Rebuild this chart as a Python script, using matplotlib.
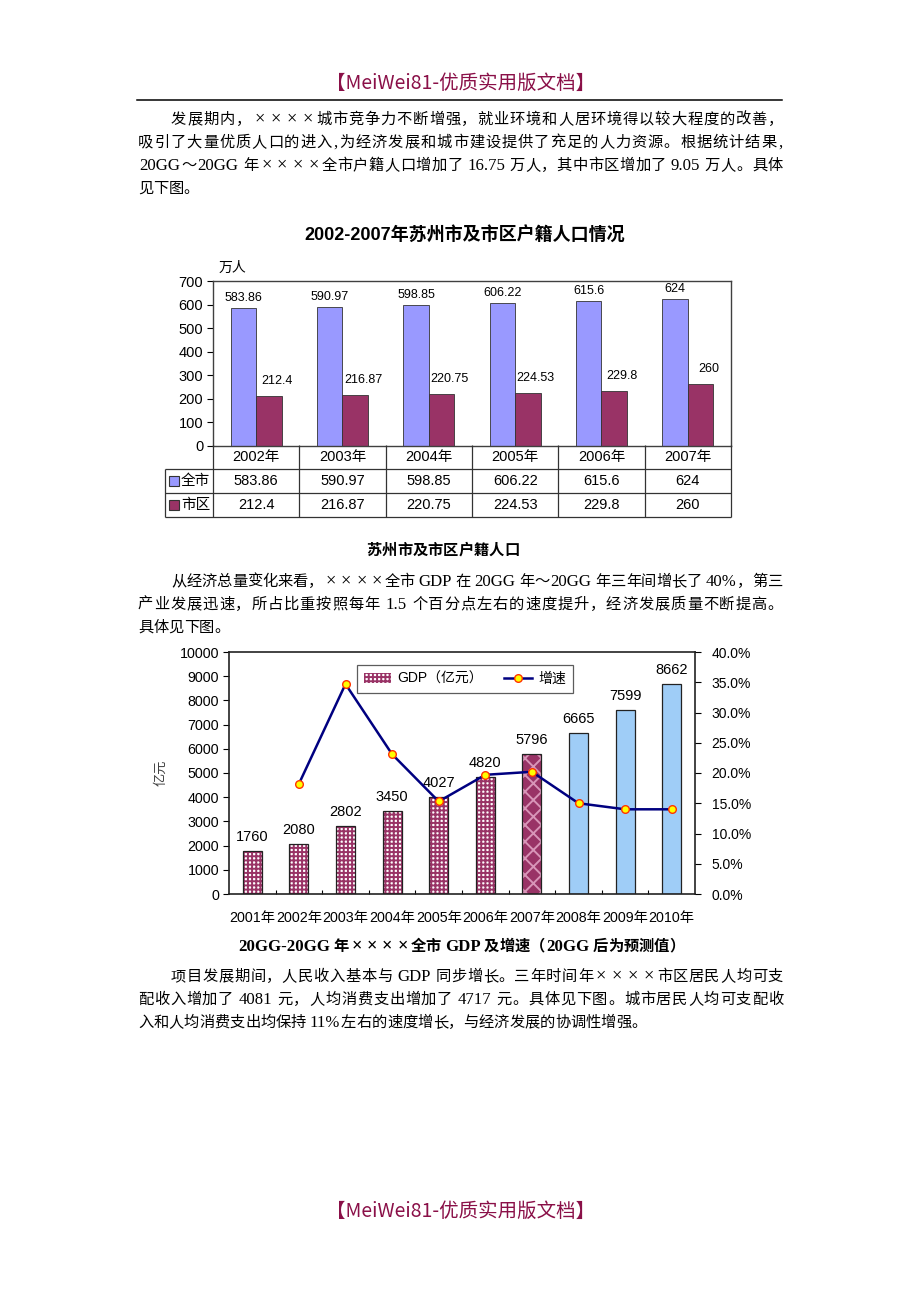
import re

import matplotlib
matplotlib.use("Agg")
import matplotlib.pyplot as plt
import numpy as np
from matplotlib.font_manager import FontProperties
from matplotlib.lines import Line2D
from matplotlib.patches import Patch

W, H = 920, 1302
SANS = ["Liberation Sans", "Noto Sans CJK SC"]
BODY = ["Liberation Serif", "Noto Sans CJK SC"]
HEAD = ["Noto Sans CJK SC"]
MAROON = "#993366"
VIOLET = "#9999FF"
BRAND = "#8A1048"

plt.rcParams["font.family"] = SANS
plt.rcParams["hatch.linewidth"] = 1.4

# ---- data -------------------------------------------------------------
pop_years = ["2002年", "2003年", "2004年", "2005年", "2006年", "2007年"]
pop_series = ["全市", "市区"]
pop_city = [583.86, 590.97, 598.85, 606.22, 615.6, 624]
pop_urban = [212.4, 216.87, 220.75, 224.53, 229.8, 260]

gdp_years = ["2001年", "2002年", "2003年", "2004年", "2005年",
             "2006年", "2007年", "2008年", "2009年", "2010年"]
gdp = [1760, 2080, 2802, 3450, 4027, 4820, 5796, 6665, 7599, 8662]
growth = [np.nan, 18.2, 34.7, 23.1, 15.3, 19.7, 20.2, 15.0, 14.0, 14.0]  # %
gdp_kind = ["actual"] * 6 + ["base"] + ["forecast"] * 3

brand = "【MeiWei81-优质实用版文档】"
para1 = ["发展期内，××××城市竞争力不断增强，就业环境和人居环境得以较大程度的改善，",
         "吸引了大量优质人口的进入,为经济发展和城市建设提供了充足的人力资源。根据统计结果,",
         "20GG～20GG 年××××全市户籍人口增加了 16.75 万人，其中市区增加了 9.05 万人。具体",
         "见下图。"]
para2 = ["从经济总量变化来看，××××全市 GDP 在 20GG 年～20GG 年三年间增长了 40%，第三",
         "产业发展迅速，所占比重按照每年 1.5 个百分点左右的速度提升，经济发展质量不断提高。",
         "具体见下图。"]
para3 = ["项目发展期间，人民收入基本与 GDP 同步增长。三年时间年××××市区居民人均可支",
         "配收入增加了 4081 元，人均消费支出增加了 4717 元。具体见下图。城市居民人均可支配收",
         "入和人均消费支出均保持 11%左右的速度增长，与经济发展的协调性增强。"]
title1 = "2002-2007年苏州市及市区户籍人口情况"
caption1 = "苏州市及市区户籍人口"
caption2 = "20GG-20GG 年××××全市 GDP 及增速（20GG 后为预测值）"

# ---- page helpers -----------------------------------------------------
fig = plt.figure(figsize=(W / 100, H / 100), dpi=100)
renderer = fig.canvas.get_renderer()


def fx(x):
    return x / W


def fy(y):
    return 1 - y / H


def rect(l, t, r, b):
    return [l / W, 1 - b / H, (r - l) / W, (b - t) / H]


TOKEN = re.compile(r"[A-Za-z0-9.%\-]+| |.")


def is_wide(ch):
    return ord(ch) > 0x2000 or ch == "×"


def set_line(s, y, x0=None, x1=None, center=None, size=11, weight="normal"):
    """Lay a line out in em cells (CJK style); justify if x1 is given."""
    fp_cjk = FontProperties(family=HEAD, size=size, weight=weight)
    fp_lat = FontProperties(family=BODY, size=size * 1.1, weight=weight)
    fp_x = FontProperties(family=BODY, size=size * 1.2, weight=weight)
    em = size * fig.dpi / 72
    toks = TOKEN.findall(s)
    widths, props = [], []
    for t in toks:
        if t == " ":
            widths.append(em * 0.2)
            props.append(None)
        elif len(t) == 1 and is_wide(t):
            widths.append(em)
            props.append(fp_x if t == "×" else fp_cjk)
        else:
            w = renderer.get_text_width_height_descent(t, fp_lat, ismath=False)[0]
            widths.append(w + em * 0.1)
            props.append(fp_lat)
    natural = sum(widths)
    gap = 0.0
    if x1 is not None:
        gap = (x1 - x0 - natural) / (len(toks) - 1)
    if center is not None:
        x0 = center - natural / 2
    base = y + 0.38 * em
    x = x0
    for t, w, fp in zip(toks, widths, props):
        if fp is fp_x:
            fig.text(fx(x + w / 2), fy(base), t, fontproperties=fp, ha="center", va="baseline")
        elif fp is not None:
            dx = em * 0.05 if fp is fp_lat else 0
            fig.text(fx(x + dx), fy(base), t, fontproperties=fp, ha="left", va="baseline")
        x += w + gap


def paragraph(lines, y0, left=138, right=783, indent=33, step=23):
    for i, s in enumerate(lines):
        x0 = left + (indent if i == 0 else 0)
        last = i == len(lines) - 1
        set_line(s, y0 + i * step, x0=x0, x1=None if last else right)


# header / footer
fig.text(fx(461), fy(83), brand, family=HEAD, fontsize=14, color=BRAND, ha="center", va="center")
fig.add_artist(Line2D([fx(137), fx(782)], [fy(100), fy(100)], color="black", lw=1.1))
fig.text(fx(461), fy(1211), brand, family=HEAD, fontsize=14, color=BRAND, ha="center", va="center")

paragraph(para1, 118)
paragraph(para2, 580)
paragraph(para3, 975)
set_line(caption1, 549, center=443, weight="bold")
set_line(caption2, 945, center=461, weight="bold")

# ---- chart 1: population bars + data table ----------------------------
fig.text(fx(465), fy(236), title1, fontsize=13, weight="bold", ha="center", va="center")

L1, T1, R1, B1 = 213, 281, 731, 445.5
ax1 = fig.add_axes(rect(L1, T1, R1, B1))
x = np.arange(len(pop_years))
bw = 0.294
ax1.bar(x - bw / 2, pop_city, bw, color=VIOLET, edgecolor="#333333", lw=0.6)
ax1.bar(x + bw / 2, pop_urban, bw, color=MAROON, edgecolor="#333333", lw=0.6)
ax1.set_xlim(-0.5, len(x) - 0.5)
ax1.set_ylim(0, 700)
ax1.set_yticks(range(0, 701, 100))
ax1.set_xticks([])
ax1.tick_params(axis="y", direction="out", length=4, width=0.8, labelsize=10.5, pad=3)
for sp in ax1.spines.values():
    sp.set_color("#404040")
    sp.set_linewidth(1.0)
for xi, v in zip(x, pop_city):
    ax1.annotate(f"{v:g}", (xi - bw / 2, v), xytext=(0, 10), textcoords="offset pixels",
                 ha="center", va="center", fontsize=9)
for xi, v in zip(x, pop_urban):
    ax1.annotate(f"{v:g}", (xi + bw / 2, v), xytext=(8, 15), textcoords="offset pixels",
                 ha="center", va="center", fontsize=9)
fig.text(fx(232), fy(268), "万人", fontsize=10, ha="center", va="center")

# table under the plot, sharing its column positions
TL, TB = 165, 517
cat_px = (R1 - L1) / len(x)
lab_w = (L1 - TL) / cat_px
axt = fig.add_axes(rect(TL, B1, R1, TB))
axt.set_xlim(-0.5 - lab_w, len(x) - 0.5)
axt.set_ylim(3, 0)
axt.axis("off")
axt.hlines([1, 2, 3], -0.5 - lab_w, len(x) - 0.5, color="#333333", lw=0.9, clip_on=False)
axt.vlines(np.arange(len(x) + 1) - 0.5, 0, 3, color="#333333", lw=0.9, clip_on=False)
axt.vlines(-0.5 - lab_w, 1, 3, color="#333333", lw=0.9, clip_on=False)
for i, yr in enumerate(pop_years):
    axt.text(i, 0.5, yr, ha="center", va="center", fontsize=10.5)
for row, (vals, col, name) in enumerate(zip([pop_city, pop_urban], [VIOLET, MAROON], pop_series), start=1):
    for i, v in enumerate(vals):
        axt.text(i, row + 0.5, f"{v:g}", ha="center", va="center", fontsize=10.5)
    axt.plot(-0.5 - lab_w + 9 / cat_px, row + 0.5, marker="s", ms=6.5, mfc=col, mec="#333333",
             mew=0.8, clip_on=False)
    axt.text(-0.5 - lab_w + 16 / cat_px, row + 0.5, name, ha="left", va="center", fontsize=10.5)

# ---- chart 2: GDP bars + growth line ----------------------------------
L2, T2, R2, B2 = 229, 652, 695, 894
ax2 = fig.add_axes(rect(L2, T2, R2, B2))
xg = np.arange(len(gdp_years))
gw = 0.41
styles = {
    "actual": dict(fc="white", hatch="++++", hc=MAROON),
    "base": dict(fc=MAROON, hatch="xx", hc="#d895b8"),
    "forecast": dict(fc="#9fcdf7", hatch="", hc="#9fcdf7"),
}
for xi, v, k in zip(xg, gdp, gdp_kind):
    st = styles[k]
    ax2.bar(xi, v, gw, color=st["fc"], hatch=st["hatch"], edgecolor=st["hc"], lw=0)
    ax2.bar(xi, v, gw, fill=False, edgecolor="#222222", lw=0.9)
    ax2.annotate(f"{v}", (xi, v), xytext=(0, 14), textcoords="offset pixels",
                 ha="center", va="center", fontsize=10.5)
ax2.set_xlim(-0.5, len(xg) - 0.5)
ax2.set_ylim(0, 10000)
ax2.set_yticks(range(0, 10001, 1000))
ax2.set_xticks(xg, gdp_years)
ax2.set_xticks(xg[:-1] + 0.5, minor=True)
ax2.tick_params(axis="x", which="major", length=0, labelsize=10.3, pad=12)
ax2.tick_params(axis="x", which="minor", direction="in", length=3, width=0.8)
ax2.tick_params(axis="y", direction="out", length=4, width=0.8, labelsize=10.3, pad=3)
ax2.set_ylabel("亿元", fontsize=9.5, color="#404040")
ax2.yaxis.set_label_coords((167 - L2) / (R2 - L2), 0.5)
for sp in ax2.spines.values():
    sp.set_color("#222222")
    sp.set_linewidth(1.2)

ax2r = ax2.twinx()
ax2r.plot(xg, growth, color="#000080", lw=1.8, marker="o", ms=5.5,
          mfc="#FFFF00", mec="#FF3300", mew=1.0, zorder=5)
ax2r.set_ylim(0, 40)
ax2r.set_yticks(range(0, 41, 5))
ax2r.set_yticklabels([f"{v:.1f}%" for v in range(0, 41, 5)])
ax2r.tick_params(axis="y", direction="out", length=4, width=0.8, labelsize=10, pad=8)
for sp in ax2r.spines.values():
    sp.set_visible(False)

handles = [Patch(facecolor="white", hatch="++++", edgecolor=MAROON, lw=0),
           Line2D([], [], color="#000080", lw=1.8, marker="o", ms=5.5,
                  mfc="#FFFF00", mec="#FF3300", mew=1.0)]
leg = ax2r.legend(handles, ["GDP（亿元）", "增速"], ncol=2, loc="upper center",
                  bbox_to_anchor=(0.506, 0.975), fontsize=10, frameon=True,
                  fancybox=False, edgecolor="#333333", handlelength=2.0,
                  handletextpad=0.45, columnspacing=1.5, borderpad=0.5)
leg.get_frame().set_linewidth(0.9)

fig.savefig("out.png", dpi=100)
